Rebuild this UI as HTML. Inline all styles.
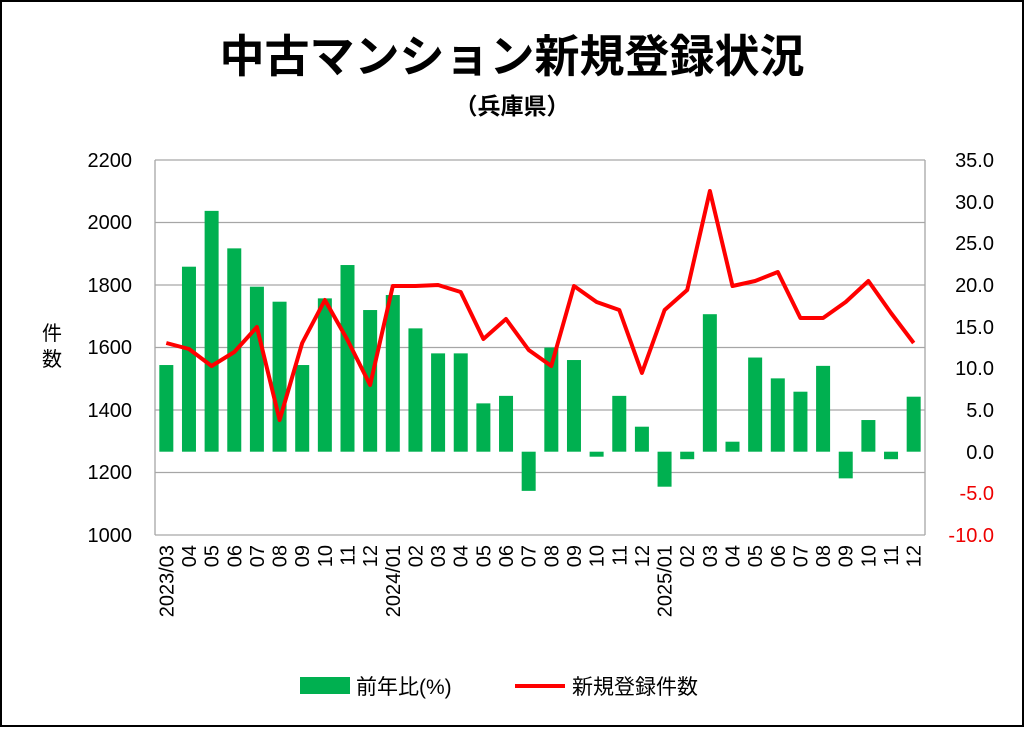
<!DOCTYPE html>
<html><head><meta charset="utf-8"><style>
body{margin:0;background:#fff}
svg text{font-family:"Liberation Sans","Noto Sans CJK JP",sans-serif}
</style></head><body>
<svg width="1024" height="727" viewBox="0 0 1024 727" xmlns="http://www.w3.org/2000/svg">
<rect x="1" y="1" width="1022" height="725" fill="#fff" stroke="#000" stroke-width="2"/>
<text x="512" y="72" text-anchor="middle" font-size="45" font-weight="bold">中古マンション新規登録状況</text>
<text x="512" y="114" text-anchor="middle" font-size="23" font-weight="bold">（兵庫県）</text>
<g stroke="#a6a6a6" stroke-width="1.3">
<line x1="155" y1="160" x2="925" y2="160"/><line x1="155" y1="222.5" x2="925" y2="222.5"/>
<line x1="155" y1="285" x2="925" y2="285"/><line x1="155" y1="347.5" x2="925" y2="347.5"/>
<line x1="155" y1="410" x2="925" y2="410"/><line x1="155" y1="472.5" x2="925" y2="472.5"/>
<line x1="155" y1="535" x2="925" y2="535"/>
<line x1="155" y1="160" x2="155" y2="535"/><line x1="925" y1="160" x2="925" y2="535"/>
</g>
<g font-size="20" text-anchor="end">
<text x="132" y="167">2200</text><text x="132" y="229">2000</text><text x="132" y="292">1800</text>
<text x="132" y="354">1600</text><text x="132" y="417">1400</text><text x="132" y="479">1200</text><text x="132" y="542">1000</text>
</g>
<g font-size="20" text-anchor="end">
<text x="994" y="167">35.0</text><text x="994" y="209">30.0</text><text x="994" y="250">25.0</text>
<text x="994" y="292">20.0</text><text x="994" y="334">15.0</text><text x="994" y="375">10.0</text>
<text x="994" y="417">5.0</text><text x="994" y="459">0.0</text>
<text x="994" y="500" fill="#e00">-5.0</text><text x="994" y="542" fill="#e00">-10.0</text>
</g>
<text x="52" y="340" font-size="20" text-anchor="middle">件</text>
<text x="52" y="366" font-size="20" text-anchor="middle">数</text>
<g id="bars" fill="#00b050"></g>
<polyline id="line" fill="none" stroke="#f00" stroke-width="4" stroke-linejoin="round"/>
<g id="labels" font-size="20"></g>
<rect x="300" y="677" width="50" height="17" fill="#00b050"/>
<text x="356" y="694" font-size="21">前年比(%)</text>
<line x1="515" y1="686" x2="565" y2="686" stroke="#f00" stroke-width="4"/>
<text x="572" y="694" font-size="21">新規登録件数</text>
<script>
var b=[10.4,22.2,28.9,24.4,19.8,18,10.4,18.4,22.4,17,18.8,14.8,11.8,11.8,5.8,6.7,-4.7,12.5,11,-0.6,6.7,3,-4.2,-0.9,16.5,1.2,11.3,8.8,7.2,10.3,-3.2,3.8,-0.9,6.6];
var ly=[343,349,366,352,327,420,343,300,340,385,286,286,285,292,339,319,350,366,286,302,310,373,310,290,191,286,281,272,318,318,302,281,313,343];
var lab=["2023/03","04","05","06","07","08","09","10","11","12","2024/01","02","03","04","05","06","07","08","09","10","11","12","2025/01","02","03","04","05","06","07","08","09","10","11","12"];
var w=770/34,z=451.7,s=375/45,ns="http://www.w3.org/2000/svg",g=document.getElementById('bars'),L=document.getElementById('labels'),pts=[];
for(var i=0;i<34;i++){var cx=155+w*(i+0.5);var r=document.createElementNS(ns,'rect');var h=b[i]*s;
r.setAttribute('x',cx-7);r.setAttribute('width',14);r.setAttribute('y',h>0?z-h:z);r.setAttribute('height',Math.abs(h));g.appendChild(r);
pts.push(cx.toFixed(1)+','+ly[i]);
var t=document.createElementNS(ns,'text');t.setAttribute('transform','translate('+(cx+7)+',545) rotate(-90)');t.setAttribute('text-anchor','end');t.textContent=lab[i];L.appendChild(t);}
document.getElementById('line').setAttribute('points',pts.join(' '));
</script>
</svg>
</body></html>
